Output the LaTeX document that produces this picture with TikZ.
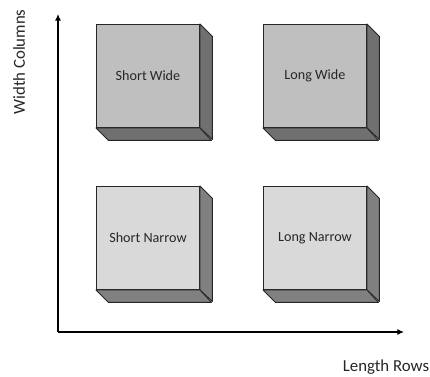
\documentclass[tikz,border=0pt]{standalone}
\usepackage{fontspec}
\setmainfont{Carlito}
\usepackage{tikz}
\usetikzlibrary{arrows.meta,positioning}
\newcommand{\dep}{12.5}
\newcommand{\side}{103}

\begin{document}
\begin{tikzpicture}[x=0.75pt,y=-0.75pt,
  face/.style={draw=black!85, line width=0.7pt, minimum size=77.25pt,
    inner sep=0pt, anchor=north west, text=black!85,
    font=\fontsize{10.6}{13}\selectfont},
  shade/.style={draw=black!85, line width=0.7pt, line join=round},
  axis/.style={line width=0.8pt, -{Latex[length=5pt,width=4.5pt]}},
  lbl/.style={text=black!85, font=\fontsize{12.6}{15}\selectfont}]
\useasboundingbox (0,0) rectangle (430,377);
\coordinate (o) at (58,332);
\coordinate (xe) at (404,332);
\coordinate (ye) at (58,14);
\draw[axis] (o) -- (xe);
\draw[axis] (o) -- (ye);
% the four blocks
\foreach \nm/\px/\py/\txt/\fc/\sc in {sw/96/24/Short Wide/black!25/black!56,
    lw/263/24/Long Wide/black!25/black!56,
    sn/96/186/Short Narrow/black!15/black!50,
    ln/263/186/Long Narrow/black!15/black!50}{
  \node[face, fill=\fc] (\nm) at (\px,\py) {\txt};
  \filldraw[shade, fill=\sc] (\nm.north east) -- ++(\dep,\dep) -- ++(0,\side)
    -- (\nm.south east) -- cycle;
  \filldraw[shade, fill=\sc] (\nm.south west) -- ++(\dep,\dep) -- ++(\side,0)
    -- (\nm.south east) -- cycle;
}
\node[lbl, rotate=90] (wc) at (19,62) {Width Columns};
\node[lbl] (lr) at (386,367) {Length Rows};
\end{tikzpicture}
\end{document}
